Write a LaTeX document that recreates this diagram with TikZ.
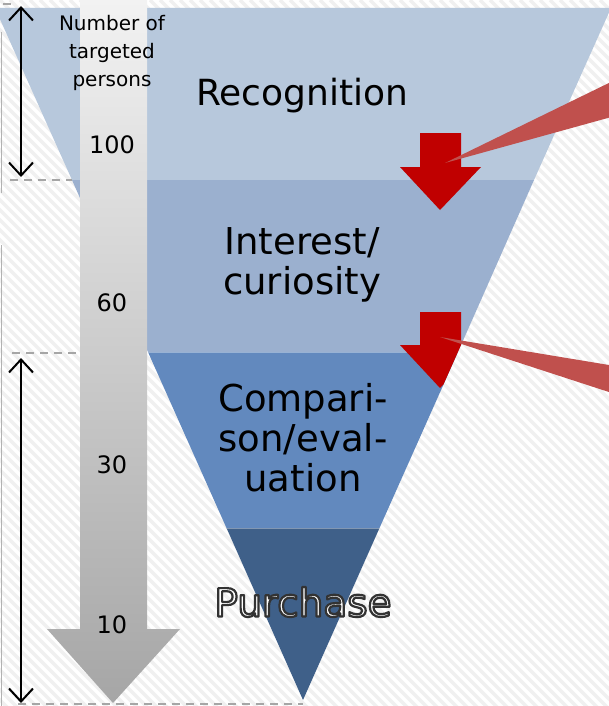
\documentclass[tikz,border=0pt]{standalone}
\usepackage{fontspec}
\setmainfont{DejaVu Sans}
\usetikzlibrary{arrows.meta,positioning}

\definecolor{bandA}{HTML}{B7C8DC}
\definecolor{bandB}{HTML}{9BB0CF}
\definecolor{bandC}{HTML}{6289BE}
\definecolor{bandD}{HTML}{3F6089}
\definecolor{redarrow}{HTML}{C00000}
\definecolor{callout}{HTML}{C0504D}

\newcommand{\outlined}[1]{\color{white}\special{pdf:literal direct 2 Tr 2.2 w 1 j 0.2 0.2 0.2 RG}#1\special{pdf:literal direct 0 Tr}}

\begin{document}
\begin{tikzpicture}[x=1pt, y=-1pt,
    stripe/.style={draw=black!6, line width=3.5pt},
    bandtext/.style={align=center, font=\fontsize{37}{40}\selectfont, inner sep=0pt},
    countnum/.style={font=\fontsize{24}{28}\selectfont, inner sep=0pt},
    guide/.style={draw=black!35, dash pattern=on 8pt off 6pt, line width=2.2pt},
    span/.style={<->, >={Straight Barb[length=13pt,width=24pt,line width=2pt]}, line width=2pt}
    ]

    % background with stripes
    \useasboundingbox (0,0) rectangle (609,706);
    \fill[white] (0,0) rectangle (609,706);
    \begin{scope}
        \clip (0,0) rectangle (609,706);
        \foreach \s in {-720,-710,...,610}
            \draw[stripe] (\s,0) -- ++(720,720);
    \end{scope}
    \draw[black!30, line width=1pt] (1,32) -- (1,193);
    \draw[black!30, line width=1pt] (1,245) -- (1,706);

    % funnel
    \fill[bandA] (-5,8) -- (611,8) -- (534,180) -- (72,180) -- cycle;
    \fill[bandB] (72,180) -- (534,180) -- (458,352) -- (148,352) -- cycle;
    \fill[bandC] (148,352) -- (458,352) -- (379.5,528) -- (226.5,528) -- cycle;
    \fill[bandD] (226.5,528) -- (379.5,528) -- (303,700) -- cycle;
    \draw[white, opacity=0.35, line width=1pt] (148,352) -- (458,352);
    \draw[white, opacity=0.35, line width=1pt] (226.5,528) -- (379.5,528);

    % red arrows
    \begin{scope}
        \clip (-5,8) -- (611,8) -- (303,700) -- cycle;
        \fill[redarrow] (420,133) -- (461,133) -- (461,167) -- (481,167)
            -- (440,210) -- (400,167) -- (420,167) -- cycle;
        \fill[redarrow] (420,312) -- (461,312) -- (461,345) -- (482,345)
            -- (440,388) -- (400,345) -- (420,345) -- cycle;
    \end{scope}
    \fill[callout] (445,163) -- (615,80) -- (615,116) -- cycle;
    \fill[callout] (440,337) -- (615,366) -- (615,394) -- cycle;

    % guides
    \draw[guide] (3,4) -- (14,4);
    \draw[guide] (10,180) -- (72,180);
    \draw[guide] (12,353) -- (148,353);
    \draw[guide] (18,704) -- (303,704);

    % count arrow
    \shade[top color=black!5, bottom color=black!35]
        (80,-2) -- (147,-2) -- (147,629) -- (180,629) -- (113,703)
        -- (47,629) -- (80,629) -- cycle;

    \node[align=center, font=\fontsize{20}{28}\selectfont, inner sep=0pt] (title) at (112,53)
        {Number of\\targeted\\persons};
    \node[countnum] (n100) at (112,145) {100};
    \node[countnum] (n60)  at (112,303) {60};
    \node[countnum] (n30)  at (112,465) {30};
    \node[countnum] (n10)  at (112,625) {10};

    % stage names
    \node[bandtext, font=\fontsize{36}{40}\selectfont] (recog) at (302,96) {Recognition};
    \node[bandtext] (interest) at (302,265) {Interest/\\curiosity};
    \node[bandtext] (compare) at (303,438) {Compari-\\son/eval-\\uation};
    \node[bandtext, font=\fontsize{39}{40}\selectfont] (buy) at (303,602) {\outlined{Purchase}};

    % spans
    \coordinate (s1a) at (21,6);
    \coordinate (s1b) at (21,177);
    \coordinate (s2a) at (21,358);
    \coordinate (s2b) at (21,703);
    \draw[span] (s1a) -- (s1b);
    \draw[span] (s2a) -- (s2b);
\end{tikzpicture}
\end{document}
